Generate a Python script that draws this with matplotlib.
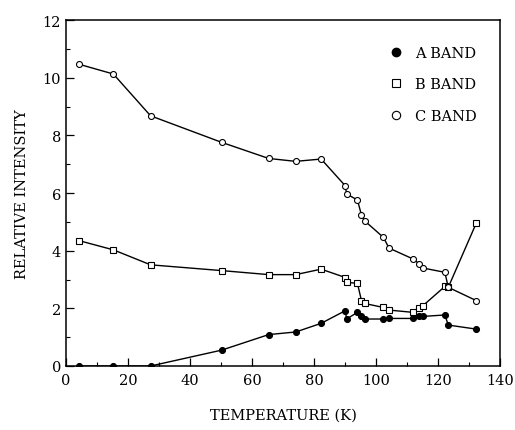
import matplotlib
matplotlib.use("Agg")
import matplotlib.pyplot as plt
from matplotlib.lines import Line2D
from matplotlib.ticker import MultipleLocator

temperature = [4.2, 15.3, 27.3, 50.2, 65.4, 74.1, 82.3, 90.1, 90.5, 94.0,
               95.3, 96.3, 102.4, 104.2, 112.0, 114.0, 115.1, 122.2, 123.3, 132.3]
a_band = [0.0, 0.0, 0.0, 0.55, 1.09, 1.18, 1.48, 1.92, 1.63, 1.86,
          1.75, 1.63, 1.63, 1.65, 1.65, 1.75, 1.72, 1.77, 1.42, 1.28]
b_band = [4.35, 4.03, 3.51, 3.31, 3.17, 3.17, 3.36, 3.07, 2.90, 2.87,
          2.27, 2.17, 2.03, 1.94, 1.86, 2.01, 2.09, 2.76, 2.73, 4.95]
c_band = [10.47, 10.13, 8.68, 7.76, 7.20, 7.10, 7.18, 6.25, 5.97, 5.76,
          5.24, 5.04, 4.46, 4.09, 3.71, 3.54, 3.40, 3.25, 2.73, 2.27]
labels = ["A BAND", "B BAND", "C BAND"]

plt.rcParams['font.family'] = ['DejaVu Serif']

fig = plt.figure(figsize=(5.15, 4.31), dpi=100)
ax = fig.add_axes([0.128, 0.1485, 0.843, 0.8025])

lw = 1.0
ms = 4.3
ax.plot(temperature, a_band, '-', color='black', lw=lw, marker='o', ms=ms,
        mfc='black', mec='black', mew=0.8, zorder=3)
ax.plot(temperature, b_band, '-', color='black', lw=lw, marker='s', ms=ms,
        mfc='white', mec='black', mew=0.8, zorder=3)
ax.plot(temperature, c_band, '-', color='black', lw=lw, marker='o', ms=ms,
        mfc='white', mec='black', mew=0.8, zorder=3)

ax.set_xlim(0, 140)
ax.set_ylim(0, 12)
ax.xaxis.set_major_locator(MultipleLocator(20))
ax.xaxis.set_minor_locator(MultipleLocator(10))
ax.yaxis.set_major_locator(MultipleLocator(2))
ax.yaxis.set_minor_locator(MultipleLocator(1))
ax.tick_params(which='both', direction='in', labelsize=10.5)
ax.tick_params(which='major', length=6, width=0.9)
ax.tick_params(which='minor', length=3, width=0.8)
ax.tick_params(axis='x', pad=5)
for s in ax.spines.values():
    s.set_linewidth(1.1)

ax.set_xlabel("TEMPERATURE (K)", fontsize=10.5, labelpad=15)
ax.set_ylabel("RELATIVE INTENSITY", fontsize=10.5, labelpad=10)

handles = [
    Line2D([], [], ls='none', marker='o', ms=6, mfc='black', mec='black'),
    Line2D([], [], ls='none', marker='s', ms=6, mfc='white', mec='black', mew=0.8),
    Line2D([], [], ls='none', marker='o', ms=6, mfc='white', mec='black', mew=0.8),
]
ax.legend(handles, labels, loc='upper left', bbox_to_anchor=(0.714, 0.964),
          frameon=False, fontsize=10.5, handlelength=1.0, handletextpad=0.8,
          labelspacing=1.2)

fig.savefig("out.png", dpi=100)
